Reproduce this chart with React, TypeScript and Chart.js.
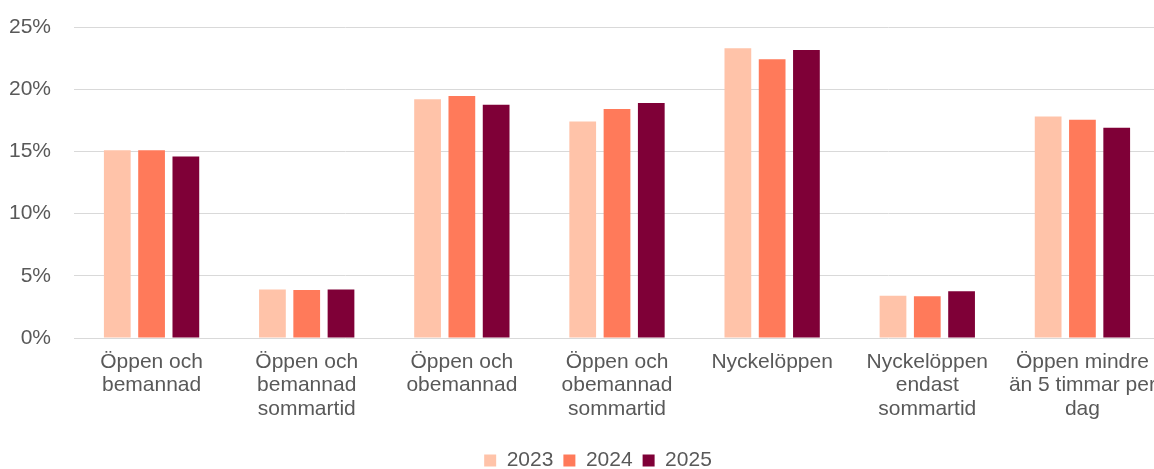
import React, { useEffect, useRef } from "react";
import { Chart, registerables } from "chart.js";

Chart.register(...registerables);

const categories: string[][] = [
  ["Öppen och", "bemannad"],
  ["Öppen och", "bemannad", "sommartid"],
  ["Öppen och", "obemannad"],
  ["Öppen och", "obemannad", "sommartid"],
  ["Nyckelöppen"],
  ["Nyckelöppen", "endast", "sommartid"],
  ["Öppen mindre", "än 5 timmar per", "dag"],
];

const seriesNames = ["2023", "2024", "2025"];
const values2023 = [15.1, 3.9, 19.2, 17.4, 23.3, 3.4, 17.8];
const values2024 = [15.1, 3.85, 19.45, 18.4, 22.4, 3.35, 17.55];
const values2025 = [14.6, 3.9, 18.75, 18.9, 23.15, 3.75, 16.9];
const seriesColors = ["#FFC3A9", "#FF7A5A", "#7F0037"];
const yTicks = [0, 5, 10, 15, 20, 25];

const legendShift = {
  id: "legendShift",
  afterLayout(chart: any) {
    const l = chart.legend;
    if (l) {
      l.left += 18;
      l.right += 18;
    }
  },
};

const zeroPadding = (scale: any) => {
  scale.paddingTop = 0;
  scale.paddingBottom = 0;
  scale.paddingLeft = 0;
  scale.paddingRight = 0;
};

export default function App() {
  const canvasRef = useRef<HTMLCanvasElement | null>(null);

  useEffect(() => {
    if (!canvasRef.current) return;
    const font = { family: "'Liberation Sans', Arial, sans-serif", size: 21 };
    const allValues = [values2023, values2024, values2025];
    const chart = new Chart(canvasRef.current, {
      type: "bar",
      data: {
        labels: categories,
        datasets: seriesNames.map((name, i) => ({
          label: name,
          data: allValues[i],
          backgroundColor: seriesColors[i],
          borderWidth: 0,
          categoryPercentage: 0.663,
          barPercentage: 0.78,
        })),
      },
      plugins: [legendShift],
      options: {
        animation: false,
        responsive: false,
        maintainAspectRatio: false,
        layout: { padding: { left: 0, right: 0, top: 27, bottom: 0 } },
        plugins: {
          legend: {
            position: "bottom",
            labels: {
              boxWidth: 12,
              boxHeight: 12,
              padding: 10,
              color: "#595959",
              font,
            },
          },
          tooltip: { enabled: false },
        },
        scales: {
          x: {
            grid: { display: false, drawTicks: false },
            border: { display: false },
            ticks: {
              color: "#595959",
              font: { ...font, lineHeight: 1.1 },
              padding: 13,
              maxRotation: 0,
              autoSkip: false,
            },
            afterFit: (scale: any) => {
              scale.height = 102;
              zeroPadding(scale);
            },
          },
          y: {
            min: 0,
            max: 25,
            afterBuildTicks: (scale: any) => {
              scale.ticks = yTicks.map((v) => ({ value: v }));
            },
            grid: { color: "#d9d9d9", lineWidth: 1, drawTicks: false },
            border: { display: false },
            ticks: {
              color: "#595959",
              font,
              padding: 23,
              callback: (v: any) => `${v}%`,
            },
            afterFit: (scale: any) => {
              scale.width = 74;
              zeroPadding(scale);
            },
          },
        },
      },
    });
    return () => chart.destroy();
  }, []);

  return (
    <div
      style={{
        position: "fixed",
        left: 0,
        top: 0,
        width: 1154,
        height: 469,
        overflow: "hidden",
        background: "#ffffff",
      }}
    >
      <canvas
        ref={canvasRef}
        width={1160}
        height={481}
        style={{ width: 1160, height: 481, display: "block" }}
      />
    </div>
  );
}
